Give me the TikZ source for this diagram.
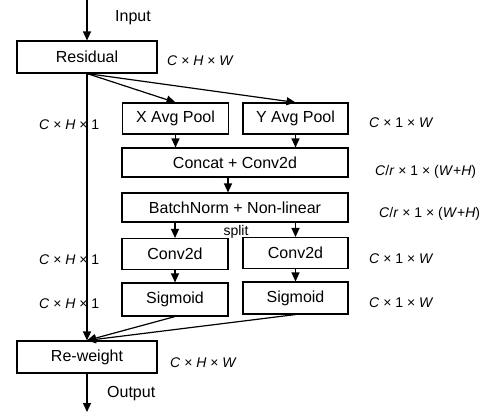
\documentclass[tikz,border=0pt]{standalone}
\usepackage{fontspec}
\setmainfont{Liberation Sans}
\usetikzlibrary{arrows.meta}
\begin{document}
\begin{tikzpicture}[x=1pt, y=-1pt,
    box/.style={draw, line width=1.1pt, minimum width=#1, minimum height=31pt, inner sep=0pt,
        font=\fontsize{16}{18}\selectfont},
    box/.default=106pt,
    arr/.style={line width=1.2pt, -{Triangle[length=9pt, width=8pt]}},
    dim/.style={anchor=west, inner sep=0pt, font=\fontsize{14}{16}\selectfont}]
    \useasboundingbox (0,0) rectangle (494,417);

    % blocks
    \node[box=140pt, minimum height=32pt] (res) at (87,57) {Residual};
    \node[box] (xpool) at (175.5,118.5) {X Avg Pool};
    \node[box=105pt] (ypool) at (295.5,118.5) {Y Avg Pool};
    \node[box=226pt, minimum height=29pt] (cat) at (235,162.5) {Concat + Conv2d};
    \node[box=226pt, minimum height=29pt] (bn) at (235,207.5) {BatchNorm + Non-linear};
    \node[box] (convx) at (175,254) {Conv2d};
    \node[box=105pt] (convy) at (295.5,253) {Conv2d};
    \node[box, minimum height=33pt] (sigx) at (175,299.5) {Sigmoid};
    \node[box=105pt, minimum height=32pt] (sigy) at (295.5,298) {Sigmoid};
    \node[box=140pt, minimum height=32pt] (rew) at (87,357) {Re-weight};
    \coordinate (in) at (87,0);
    \coordinate (out) at (87,412);

    % arrows
    \draw[arr] (in) -- (res);
    \draw[arr] (res.south) -- (rew.north);
    \draw[arr] (res.south) -- (xpool.north);
    \draw[arr] (res.south) -- (ypool.north);
    \draw[arr] (xpool.south) -- (xpool.south |- cat.north);
    \draw[arr] (ypool.south) -- (ypool.south |- cat.north);
    \draw[arr] ([xshift=-7pt]cat.south) -- ([xshift=-7pt]bn.north);
    \draw[arr] (bn.south -| convx) -- (convx);
    \draw[arr] (bn.south -| convy) -- (convy);
    \draw[arr] (convx) -- (sigx);
    \draw[arr] (convy) -- (sigy);
    \draw[arr] (sigx.south) -- (rew.north);
    \draw[arr] (sigy.south) -- (rew.north);
    \draw[arr] (rew) -- (out);

    % texts
    \node[anchor=west, inner sep=0pt, font=\fontsize{16}{18}\selectfont] (inlbl) at (115,18) {Input};
    \node[anchor=west, inner sep=0pt, font=\fontsize{16}{18}\selectfont] (outlbl) at (107,394) {Output};
    \node[font=\fontsize{14}{16}\selectfont, inner sep=0pt] (split) at (236,232) {split};

    \node[dim] (d1) at (167,61) {\textit{C} × \textit{H} × \textit{W}};
    \node[dim] (d2) at (39,125) {\textit{C} × \textit{H} × 1};
    \node[dim] (d3) at (369,123) {\textit{C} × 1 × \textit{W}};
    \node[dim] (d4) at (375,172) {\textit{C}/\textit{r} × 1 × (\textit{W}+\textit{H})};
    \node[dim] (d5) at (379,214) {\textit{C}/\textit{r} × 1 × (\textit{W}+\textit{H})};
    \node[dim] (d6) at (39,260) {\textit{C} × \textit{H} × 1};
    \node[dim] (d7) at (369,259) {\textit{C} × 1 × \textit{W}};
    \node[dim] (d8) at (39,304) {\textit{C} × \textit{H} × 1};
    \node[dim] (d9) at (369,303) {\textit{C} × 1 × \textit{W}};
    \node[dim] (d10) at (170,363) {\textit{C} × \textit{H} × \textit{W}};
\end{tikzpicture}
\end{document}
